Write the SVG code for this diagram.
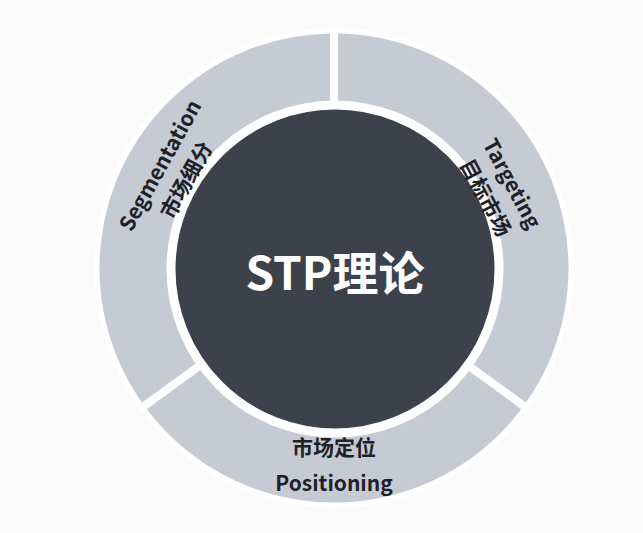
<svg xmlns="http://www.w3.org/2000/svg" width="643" height="533" viewBox="0 0 643 533">
<style>
.t{font-family:"Noto Sans CJK SC","Noto Sans",sans-serif;font-weight:bold;fill:#1f2128;font-size:21px;text-anchor:middle;dominant-baseline:central}
.sep{stroke:#fff;stroke-width:8}
</style>
<rect width="643" height="533" fill="#fbfbfc"/>
<g id="ring">
<circle cx="334" cy="268" r="237" fill="#c6cad3" stroke="#fff" stroke-width="5"/>
</g>
<g id="connectors">
<line class="sep" x1="334" y1="268" x2="334" y2="28"/>
<line class="sep" x1="334" y1="268" x2="140" y2="409"/>
<line class="sep" x1="334" y1="268" x2="528" y2="409"/>
</g>
<g id="center">
<circle cx="335" cy="269" r="164" fill="#3d414c" stroke="#fff" stroke-width="9"/>
<text x="335" y="270" class="t" style="fill:#fff;font-size:46px">STP理论</text>
</g>
<g id="segmentation" transform="translate(172,172) rotate(-61)">
<text class="t" y="-15">Segmentation</text>
<text class="t" y="15">市场细分</text>
</g>
<g id="targeting" transform="translate(500,190) rotate(62)">
<text class="t" y="-15">Targeting</text>
<text class="t" y="15">目标市场</text>
</g>
<g id="positioning">
<text class="t" x="334" y="446">市场定位</text>
<text class="t" x="334" y="482">Positioning</text>
</g>
</svg>
